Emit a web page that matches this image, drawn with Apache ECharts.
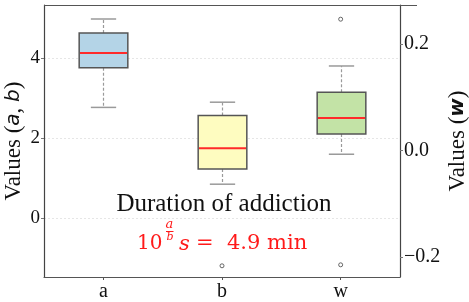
<!DOCTYPE html>
<html>
<head>
<meta charset="utf-8">
<script src="https://cdn.jsdelivr.net/npm/echarts@6/dist/echarts.min.js"></script>
<style>
html,body{margin:0;padding:0;background:#fff;}
#chart{width:469px;height:302px;}
</style>
</head>
<body>
<div id="chart"></div>
<script>
// ---- data ----
const categories = ['a', 'b', 'w'];
// [min, Q1, median, Q3, max]
const boxA = [2.77, 3.76, 4.13, 4.63, 4.98];
const boxB = [0.85, 1.23, 1.75, 2.57, 2.90];
const boxW = [-0.007, 0.031, 0.061, 0.1095, 0.159];
const outliersB = [-1.19];
const outliersW = [0.247, -0.215];
const leftTicks = [0, 2, 4];
const rightTicks = [-0.2, 0.0, 0.2];
const boxColors = ['#b4d4e7', '#fefcc0', '#c3e3a6'];

const SERIF = "'Liberation Serif', 'DejaVu Serif', serif";
const MATH = "'DejaVu Serif', 'Liberation Serif', serif";
const SANS = "'DejaVu Sans', 'Liberation Sans', sans-serif";
const RED = '#ff1a1a';

function renderBox(params, api) {
  const xi = api.value(0);
  const pMin = api.coord([xi, api.value(1)]);
  const pQ1 = api.coord([xi, api.value(2)]);
  const pMed = api.coord([xi, api.value(3)]);
  const pQ3 = api.coord([xi, api.value(4)]);
  const pMax = api.coord([xi, api.value(5)]);
  const band = api.size([1, 0])[0];
  const bw = band * 0.41;
  const cw = bw * 0.52;
  const cx = Math.round(pMin[0]) + 0.5;
  const whisk = { stroke: '#9a9a9a', lineWidth: 1.2, lineDash: [3, 2] };
  const cap = { stroke: '#9a9a9a', lineWidth: 1.5 };
  return {
    type: 'group',
    children: [
      { type: 'line', shape: { x1: cx, y1: pQ3[1], x2: cx, y2: pMax[1] }, style: whisk },
      { type: 'line', shape: { x1: cx, y1: pQ1[1], x2: cx, y2: pMin[1] }, style: whisk },
      { type: 'line', shape: { x1: cx - cw / 2, y1: pMax[1], x2: cx + cw / 2, y2: pMax[1] }, style: cap },
      { type: 'line', shape: { x1: cx - cw / 2, y1: pMin[1], x2: cx + cw / 2, y2: pMin[1] }, style: cap },
      { type: 'rect', shape: { x: cx - bw / 2, y: pQ3[1], width: bw, height: pQ1[1] - pQ3[1] },
        style: { fill: boxColors[xi], stroke: '#555', lineWidth: 1.5 } },
      { type: 'line', shape: { x1: cx - bw / 2 + 0.8, y1: pMed[1], x2: cx + bw / 2 - 0.8, y2: pMed[1] },
        style: { stroke: '#ff2a2a', lineWidth: 2 } }
    ]
  };
}

const chart = echarts.init(document.getElementById('chart'), null, { renderer: 'canvas' });

const option = {
  animation: false,
  backgroundColor: '#fff',
  grid: { left: 44, right: 69, top: 5, bottom: 25, containLabel: false, outerBoundsMode: 'none' },
  xAxis: {
    type: 'category',
    data: categories,
    boundaryGap: true,
    axisLine: { show: true, onZero: false, lineStyle: { color: '#555', width: 1.2 } },
    axisTick: { show: true, alignWithLabel: true, length: 3, lineStyle: { color: '#555' } },
    axisLabel: { fontFamily: SERIF, fontSize: 20, color: '#111', margin: 5 },
    splitLine: { show: false }
  },
  yAxis: [
    {
      type: 'value',
      min: -1.47,
      max: 5.33,
      splitNumber: 3,
      position: 'left',
      axisLine: { show: true, onZero: false, lineStyle: { color: '#444', width: 1.2 } },
      axisTick: { show: true, length: 3, lineStyle: { color: '#777' }, customValues: leftTicks },
      axisLabel: { fontFamily: SERIF, fontSize: 19, color: '#111', margin: 4, customValues: leftTicks,
        formatter: v => String(v) },
      splitLine: { show: true, lineStyle: { color: '#e6e6e6', type: [2, 2], width: 1 } },
      name: '{r|Values (}{i|a}{r|, }{i|b}{r|)}',
      nameLocation: 'middle',
      nameGap: 19,
      nameRotate: 90,
      nameMoveOverlap: false,
      nameTextStyle: {
        rich: {
          r: { fontFamily: SERIF, fontSize: 23, color: '#111' },
          i: { fontFamily: SANS, fontSize: 20, fontStyle: 'italic', color: '#111' }
        }
      }
    },
    {
      type: 'value',
      min: -0.2379,
      max: 0.2737,
      splitNumber: 3,
      position: 'right',
      axisLine: { show: true, onZero: false, lineStyle: { color: '#444', width: 1.2 } },
      axisTick: { show: true, length: 3, lineStyle: { color: '#777' }, customValues: rightTicks },
      axisLabel: { fontFamily: SERIF, fontSize: 20, color: '#111', margin: 4, customValues: rightTicks,
        formatter: v => (v < -1e-9 ? '\u2212' : '') + Math.abs(v).toFixed(1) },
      splitLine: { show: false },
      name: '{r|Values (}{b|w}{r|)}',
      nameLocation: 'middle',
      nameGap: 46,
      nameRotate: 90,
      nameMoveOverlap: false,
      nameTextStyle: {
        rich: {
          r: { fontFamily: SERIF, fontSize: 23, color: '#111' },
          b: { fontFamily: SANS, fontSize: 20, fontStyle: 'italic', fontWeight: 'bold', color: '#111' }
        }
      }
    }
  ],
  series: [
    {
      type: 'custom', xAxisIndex: 0, yAxisIndex: 0,
      renderItem: renderBox,
      encode: { x: 0, y: [1, 2, 3, 4, 5] },
      data: [[0].concat(boxA), [1].concat(boxB)],
      z: 3
    },
    {
      type: 'custom', xAxisIndex: 0, yAxisIndex: 1,
      renderItem: renderBox,
      encode: { x: 0, y: [1, 2, 3, 4, 5] },
      data: [[2].concat(boxW)],
      z: 3
    },
    {
      type: 'scatter', xAxisIndex: 0, yAxisIndex: 0,
      symbol: 'circle', symbolSize: 4,
      itemStyle: { color: '#fff', borderColor: '#444', borderWidth: 1 },
      data: outliersB.map(v => ['b', v]),
      z: 4
    },
    {
      type: 'scatter', xAxisIndex: 0, yAxisIndex: 1,
      symbol: 'circle', symbolSize: 4,
      itemStyle: { color: '#fff', borderColor: '#444', borderWidth: 1 },
      data: outliersW.map(v => ['w', v]),
      z: 4
    }
  ],
  graphic: [
    { type: 'line', shape: { x1: 44, y1: 5.5, x2: 417, y2: 5.5 }, style: { stroke: '#555', lineWidth: 1.2 }, z: 10 },
    { type: 'text', x: 224, y: 204, z: 10,
      style: { text: 'Duration of addiction', fontFamily: SERIF, fontSize: 25, fill: '#111',
        textAlign: 'center', textVerticalAlign: 'middle' } },
    { type: 'text', x: 137, y: 244, z: 10,
      style: { text: '10', fontFamily: MATH, fontSize: 20, fill: RED,
        textAlign: 'left', textVerticalAlign: 'middle' } },
    { type: 'text', x: 169.5, y: 225, z: 10,
      style: { text: 'a', fontFamily: MATH, fontStyle: 'italic', fontSize: 13, fill: RED,
        textAlign: 'center', textVerticalAlign: 'middle' } },
    { type: 'line', shape: { x1: 166, y1: 231.5, x2: 173.5, y2: 231.5 }, style: { stroke: RED, lineWidth: 1 }, z: 10 },
    { type: 'text', x: 170, y: 237, z: 10,
      style: { text: 'b', fontFamily: MATH, fontStyle: 'italic', fontSize: 11, fill: RED,
        textAlign: 'center', textVerticalAlign: 'middle' } },
    { type: 'text', x: 179, y: 245, z: 10,
      style: { text: 's', fontFamily: MATH, fontStyle: 'italic', fontSize: 21, fill: RED,
        textAlign: 'left', textVerticalAlign: 'middle' } },
    { type: 'text', x: 196, y: 244, z: 10,
      style: { text: '=', fontFamily: MATH, fontSize: 21, fill: RED,
        textAlign: 'left', textVerticalAlign: 'middle' } },
    { type: 'text', x: 227, y: 244, z: 10,
      style: { text: '4.9 min', fontFamily: MATH, fontSize: 21, fill: RED,
        textAlign: 'left', textVerticalAlign: 'middle' } }
  ]
};

chart.setOption(option);
</script>
</body>
</html>
